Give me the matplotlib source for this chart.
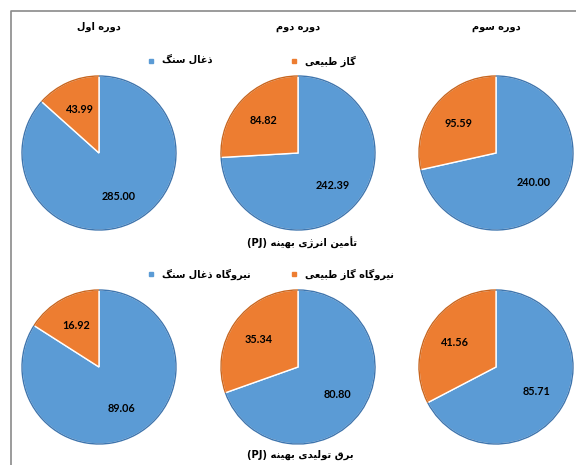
import matplotlib
matplotlib.use('Agg')
import matplotlib.pyplot as plt
from matplotlib.lines import Line2D
from matplotlib.patches import Arc

# ---------------- data ----------------
periods = ["دوره اول", "دوره دوم", "دوره سوم"]
supply_coal = [285.00, 242.39, 240.00]
supply_gas = [43.99, 84.82, 95.59]
power_coal = [89.06, 80.80, 85.71]
power_gas = [16.92, 35.34, 41.56]
legend_supply = ["ذغال سنگ", "گاز طبیعی"]
legend_power = ["نیروگاه ذغال سنگ", "نیروگاه گاز طبیعی"]
captions = ["تأمین انرژی بهینه", "برق تولیدی بهینه"]
unit = "(PJ)"

# ---------------- minimal Arabic/Persian shaping ----------------
FORMS = {  # isolated, final, initial, medial
    '\u0627': ('\uFE8D', '\uFE8E', None, None),
    '\u0623': ('\uFE83', '\uFE84', None, None),
    '\u0628': ('\uFE8F', '\uFE90', '\uFE91', '\uFE92'),
    '\u062A': ('\uFE95', '\uFE96', '\uFE97', '\uFE98'),
    '\u062F': ('\uFEA9', '\uFEAA', None, None),
    '\u0630': ('\uFEAB', '\uFEAC', None, None),
    '\u0631': ('\uFEAD', '\uFEAE', None, None),
    '\u0632': ('\uFEAF', '\uFEB0', None, None),
    '\u0698': ('\uFB8A', '\uFB8B', None, None),
    '\u0633': ('\uFEB1', '\uFEB2', '\uFEB3', '\uFEB4'),
    '\u0637': ('\uFEC1', '\uFEC2', '\uFEC3', '\uFEC4'),
    '\u0639': ('\uFEC9', '\uFECA', '\uFECB', '\uFECC'),
    '\u063A': ('\uFECD', '\uFECE', '\uFECF', '\uFED0'),
    '\u0642': ('\uFED5', '\uFED6', '\uFED7', '\uFED8'),
    '\u0644': ('\uFEDD', '\uFEDE', '\uFEDF', '\uFEE0'),
    '\u0645': ('\uFEE1', '\uFEE2', '\uFEE3', '\uFEE4'),
    '\u0646': ('\uFEE5', '\uFEE6', '\uFEE7', '\uFEE8'),
    '\u0647': ('\uFEE9', '\uFEEA', '\uFEEB', '\uFEEC'),
    '\u0648': ('\uFEED', '\uFEEE', None, None),
    '\u06CC': ('\uFBFC', '\uFBFD', '\uFBFE', '\uFBFF'),
    '\u064A': ('\uFEF1', '\uFEF2', '\uFEF3', '\uFEF4'),
    '\u06AF': ('\uFB92', '\uFB93', '\uFB94', '\uFB95'),
}


def dual(c):
    return c in FORMS and FORMS[c][2] is not None


def shape(word):
    out = []
    n = len(word)
    for i, c in enumerate(word):
        if c not in FORMS:
            out.append(c)
            continue
        prev = word[i - 1] if i > 0 else ''
        nxt = word[i + 1] if i + 1 < n else ''
        jp = dual(prev)
        jn = dual(c) and nxt in FORMS
        f = FORMS[c]
        if jp and jn:
            out.append(f[3])
        elif jp:
            out.append(f[1])
        elif jn:
            out.append(f[2])
        else:
            out.append(f[0])
    return ''.join(out)


def rtl(text):
    return shape(text)[::-1]


# ---------------- figure ----------------
W, H = 576, 465
fig = plt.figure(figsize=(W / 100, H / 100), dpi=100)

BLUE, BLUE_EDGE = '#5B9BD5', '#3E75AE'
ORANGE, ORANGE_EDGE = '#ED7D31', '#C9661F'
AR_FONT = ['DejaVu Sans']
NUM_FONT = ['Lato', 'DejaVu Sans']


def fx(x):
    return x / W


def fy(y):
    return 1 - y / H


def draw_pie(cx, cy, r, vals):
    R = r * 1.04
    ax = fig.add_axes([fx(cx - R), fy(cy + R), 2 * R / W, 2 * R / H])
    total = sum(vals)
    wedges, _, _ = ax.pie(
        vals, colors=[BLUE, ORANGE], startangle=90, counterclock=False,
        autopct=lambda p: f"{p * total / 100:.2f}", pctdistance=0.62,
        wedgeprops=dict(edgecolor='white', linewidth=1.0),
        textprops=dict(fontsize=7.8, fontweight='bold', family=NUM_FONT, color='black'))
    for w, ec in zip(wedges, [BLUE_EDGE, ORANGE_EDGE]):
        ax.add_patch(Arc((0, 0), 2, 2, theta1=w.theta1, theta2=w.theta2,
                         color=ec, lw=1.0))
    ax.set_xlim(-1.04, 1.04)
    ax.set_ylim(-1.04, 1.04)
    ax.set_aspect('equal')
    ax.axis('off')


pie_x = [99, 298, 496]
for i in range(3):
    draw_pie(pie_x[i], 153, 77, [supply_coal[i], supply_gas[i]])
    draw_pie(pie_x[i], 367, 77, [power_coal[i], power_gas[i]])

# column titles
for t, x in zip(periods, pie_x):
    fig.text(fx(x), fy(27), rtl(t), ha='center', va='center', fontsize=7,
             fontweight='bold', family=AR_FONT)


FS = 7.0
HL = 0.8


def legend(labels, y):
    # one legend per entry, at fixed column starts (marker centres)
    for lab, col, mx in zip(labels, (BLUE, ORANGE), (151, 294)):
        h = Line2D([], [], marker='s', ls='', color=col, markersize=3.5)
        x0 = mx - HL * FS * 100 / 72 / 2
        fig.legend([h], [rtl(lab)], loc='center left',
                   bbox_to_anchor=(fx(x0), fy(y)), frameon=False,
                   prop=dict(family=AR_FONT, weight='bold', size=FS),
                   handlelength=HL, handletextpad=0.7,
                   borderaxespad=0, borderpad=0)


legend(legend_supply, 61)
legend(legend_power, 274)

# captions
for c, y, x in zip(captions, [243, 455], [302, 300]):
    fig.text(fx(x), fy(y), f"{unit} {rtl(c)}", ha='center', va='center',
             fontsize=7.2, fontweight='bold', family=AR_FONT)

# frame lines (left and top)
fig.add_artist(Line2D([fx(10.5), fx(10.5), 1], [0, fy(11.5), fy(11.5)],
                      transform=fig.transFigure, color='#8a8a8a', lw=1.2))

fig.savefig('out.png', dpi=100)
